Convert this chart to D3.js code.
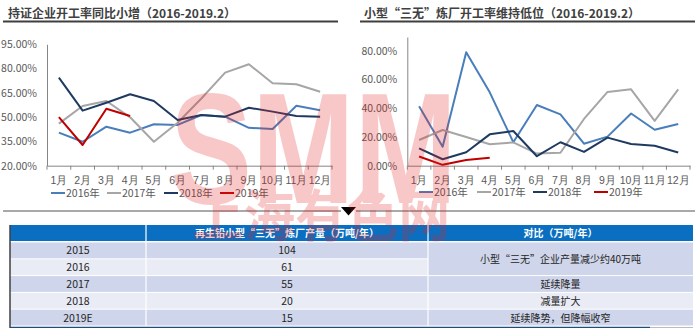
<!DOCTYPE html>
<html>
<head>
<meta charset="utf-8">
<script src="https://cdn.jsdelivr.net/npm/d3@7"></script>
<style>
  html, body { margin: 0; padding: 0; background: #fff; }
  svg { display: block; font-family: "Noto Sans CJK SC", "Noto Sans", sans-serif; }
</style>
</head>
<body>
<svg id="chart" width="700" height="328"></svg>
<script>
// ---- data ----
const months = ['1月','2月','3月','4月','5月','6月','7月','8月','9月','10月','11月','12月'];
const years = ['2016年','2017年','2018年','2019年'];

// licensed smelters operating rate (%)
const licensed2016 = [40.4, 34.8, 44.1, 40.4, 45.6, 45.2, 51.3, 50.3, 43.4, 42.7, 57.0, 54.3];
const licensed2017 = [46.0, 56.9, 60.0, 49.9, 34.8, 46.5, 61.5, 77.5, 82.7, 70.9, 70.3, 65.7];
const licensed2018 = [74.4, 54.0, 58.9, 64.1, 60.0, 48.2, 51.3, 50.3, 55.8, 53.4, 50.7, 50.3];
const licensed2019 = [50.0, 32.8, 55.2, 50.7];
const licensedTicks = [20, 35, 50, 65, 80, 95];

// small unlicensed smelters operating rate (%)
const small2016 = [41.3, 13.2, 78.9, 51.0, 16.3, 42.2, 35.7, 15.3, 20.2, 36.3, 25.0, 29.0];
const small2017 = [17.9, 24.8, 20.0, 14.9, 16.2, 8.4, 9.0, 32.5, 51.3, 53.1, 31.2, 53.1];
const small2018 = [12.0, 4.5, 9.4, 21.8, 24.1, 6.6, 16.3, 9.6, 19.5, 15.1, 13.9, 9.2];
const small2019 = [6.4, 0.6, 4.0, 5.6];
const smallTicks = [0, 20, 40, 60, 80];

// output table
const tableYears = ['2015', '2016', '2017', '2018', '2019E'];
const tableOutput = [104, 61, 55, 20, 15];
const tableNotes = ['小型“三无”企业产量减少约40万吨', null, '延续降量', '减量扩大', '延续降势，但降幅收窄'];
const tableHeaders = ['', '再生铅小型“三无”炼厂产量（万吨/年）', '对比（万吨/年）'];

const seriesColors = ['#4a7ebb', '#a6a6a6', '#1f3a60', '#c00000'];

const svg = d3.select('#chart');
svg.append('rect').attr('width', 700).attr('height', 328).attr('fill', '#fff');

function drawPanel(opt) {
  const g = svg.append('g');
  // title + rule
  g.append('text').attr('x', opt.titleX).attr('y', 18)
    .attr('font-size', 12).attr('font-weight', 'bold').attr('fill', '#404040')
    .text(opt.title);
  g.append('line').attr('x1', opt.ruleX1).attr('x2', opt.ruleX2)
    .attr('y1', 21.5).attr('y2', 21.5).attr('stroke', '#3f3f3f').attr('stroke-width', 2);

  const x = d3.scaleBand().domain(months).range([opt.left, opt.right]).padding(0);
  const y = d3.scaleLinear().domain(opt.domain).range([opt.bottom, opt.top]);

  // y axis
  const ya = g.append('g').attr('transform', `translate(${opt.left},0)`)
    .call(d3.axisLeft(y).tickValues(opt.ticks).tickSize(0).tickPadding(10)
      .tickFormat(d => d.toFixed(2) + '%'));
  ya.select('.domain').attr('stroke', '#868686');
  ya.selectAll('text').attr('font-size', 10.5).attr('fill', '#595959')
    .attr('font-family', '"Noto Sans CJK SC", sans-serif');

  // x axis with tick marks on category boundaries
  const xa = g.append('g').attr('transform', `translate(0,${opt.bottom})`)
    .call(d3.axisBottom(x).tickSize(0).tickPadding(11));
  xa.select('.domain').attr('stroke', '#868686');
  xa.selectAll('text').attr('font-size', 10.5).attr('fill', '#595959');
  const bounds = months.map(m => x(m)).concat([x(months[months.length - 1]) + x.bandwidth()]);
  xa.selectAll('.bound').data(bounds).enter().append('line')
    .attr('class', 'bound').attr('x1', d => d).attr('x2', d => d)
    .attr('y1', 0).attr('y2', 4).attr('stroke', '#868686');

  // series lines
  const line = d3.line()
    .x((d, i) => x(months[i]) + x.bandwidth() / 2)
    .y(d => y(d));
  opt.series.forEach((s, i) => {
    g.append('path').datum(s).attr('d', line)
      .attr('fill', 'none').attr('stroke', seriesColors[i])
      .attr('stroke-width', 2).attr('stroke-linejoin', 'round');
  });

  // legend
  const lg = g.append('g').attr('transform', `translate(0,${opt.legendY})`);
  years.forEach((yr, i) => {
    const lx = opt.legendX[i];
    lg.append('line').attr('x1', lx).attr('x2', lx + 14).attr('y1', 0).attr('y2', 0)
      .attr('stroke', seriesColors[i]).attr('stroke-width', 2);
    lg.append('text').attr('x', lx + 15).attr('y', 4).attr('font-size', 10.5)
      .attr('fill', '#595959').text(yr);
  });
}

drawPanel({
  title: '持证企业开工率同比小增（2016-2019.2）',
  titleX: 8, ruleX1: 3, ruleX2: 338,
  left: 47, right: 332, top: 44.3, bottom: 165.7,
  domain: [20, 95], ticks: licensedTicks,
  series: [licensed2016, licensed2017, licensed2018, licensed2019],
  legendY: 193, legendX: [51, 107, 164, 220]
});

drawPanel({
  title: '小型“三无”炼厂开工率维持低位（2016-2019.2）',
  titleX: 364, ruleX1: 360, ruleX2: 695,
  left: 407.3, right: 690, top: 37, bottom: 165.7,
  domain: [0, 89.5], ticks: smallTicks,
  series: [small2016, small2017, small2018, small2019],
  legendY: 192, legendX: [419, 477, 533, 594]
});

// divider with pointer
svg.append('line').attr('x1', 3).attr('x2', 341).attr('y1', 211).attr('y2', 211)
  .attr('stroke', '#8c8c8c').attr('stroke-width', 1.5);
svg.append('line').attr('x1', 356).attr('x2', 695).attr('y1', 211).attr('y2', 211)
  .attr('stroke', '#8c8c8c').attr('stroke-width', 1.5);
svg.append('path').attr('d', 'M341,207 L356,207 L348.5,215.5 Z').attr('fill', '#000');

// ---- table ----
const colX = [10, 146, 428, 693];
const headTop = 225, headBottom = 241;
const rowH = 16.8;
const rowFill = ['#cfd5ea', '#e9ebf5'];
const tg = svg.append('g');

tg.append('rect').attr('x', colX[0]).attr('y', headTop)
  .attr('width', colX[3] - colX[0]).attr('height', headBottom - headTop).attr('fill', '#0a6fc1');
tableHeaders.forEach((h, c) => {
  tg.append('text').attr('x', (colX[c] + colX[c + 1]) / 2).attr('y', headTop + 11.5)
    .attr('text-anchor', 'middle').attr('font-size', 10).attr('font-weight', 'bold')
    .attr('fill', '#fff').text(h);
});

const bodyTop = headBottom + 1.5;
tableYears.forEach((yr, r) => {
  const ry = bodyTop + r * rowH;
  const fill = rowFill[r % 2];
  tg.append('rect').attr('x', colX[0]).attr('y', ry).attr('width', colX[2] - colX[0])
    .attr('height', rowH - 1).attr('fill', fill);
  tg.append('text').attr('x', (colX[0] + colX[1]) / 2).attr('y', ry + rowH / 2 + 3.5)
    .attr('text-anchor', 'middle').attr('font-size', 10.5).attr('fill', '#262626').text(yr);
  tg.append('text').attr('x', (colX[1] + colX[2]) / 2).attr('y', ry + rowH / 2 + 3.5)
    .attr('text-anchor', 'middle').attr('font-size', 10.5).attr('fill', '#262626')
    .text(tableOutput[r]);
  const note = tableNotes[r];
  if (note !== null) {
    const span = (r + 1 < tableNotes.length && tableNotes[r + 1] === null) ? 2 : 1;
    tg.append('rect').attr('x', colX[2]).attr('y', ry).attr('width', colX[3] - colX[2])
      .attr('height', rowH * span - 1).attr('fill', fill);
    tg.append('text').attr('x', (colX[2] + colX[3]) / 2).attr('y', ry + rowH * span / 2 + 3.5)
      .attr('text-anchor', 'middle').attr('font-size', 10).attr('fill', '#262626').text(note);
  }
});
// column separators
[colX[1], colX[2]].forEach(cx => {
  tg.append('line').attr('x1', cx).attr('x2', cx).attr('y1', headTop)
    .attr('y2', bodyTop + rowH * tableYears.length).attr('stroke', '#fff').attr('stroke-width', 1.2);
});
// table borders
const tableBottom = bodyTop + rowH * tableYears.length;
tg.append('line').attr('x1', colX[0]).attr('x2', colX[0]).attr('y1', headTop).attr('y2', 328)
  .attr('stroke', '#404040').attr('stroke-width', 1.5);
tg.append('line').attr('x1', colX[0]).attr('x2', 650).attr('y1', tableBottom + 1.5).attr('y2', tableBottom + 1.5)
  .attr('stroke', '#1f4e79').attr('stroke-width', 2.5);
tg.append('line').attr('x1', 650).attr('x2', colX[3]).attr('y1', tableBottom + 1.5).attr('y2', tableBottom + 1.5)
  .attr('stroke', '#a6a6a6').attr('stroke-width', 1.5);

// ---- watermark ----
const wm = svg.append('g').attr('fill', '#e61e1e').attr('opacity', 0.24)
  .style('pointer-events', 'none');
wm.append('text').attr('x', 170).attr('y', 203).attr('font-size', 158)
  .attr('font-weight', 'bold').attr('font-family', '"Liberation Sans", Arial, sans-serif')
  .attr('textLength', 287).attr('lengthAdjust', 'spacingAndGlyphs').text('SMM');
wm.append('text').attr('x', 192).attr('y', 236).attr('font-size', 56)
  .attr('font-weight', 'bold').attr('textLength', 258).attr('lengthAdjust', 'spacingAndGlyphs')
  .text('上海有色网');
</script>
</body>
</html>
